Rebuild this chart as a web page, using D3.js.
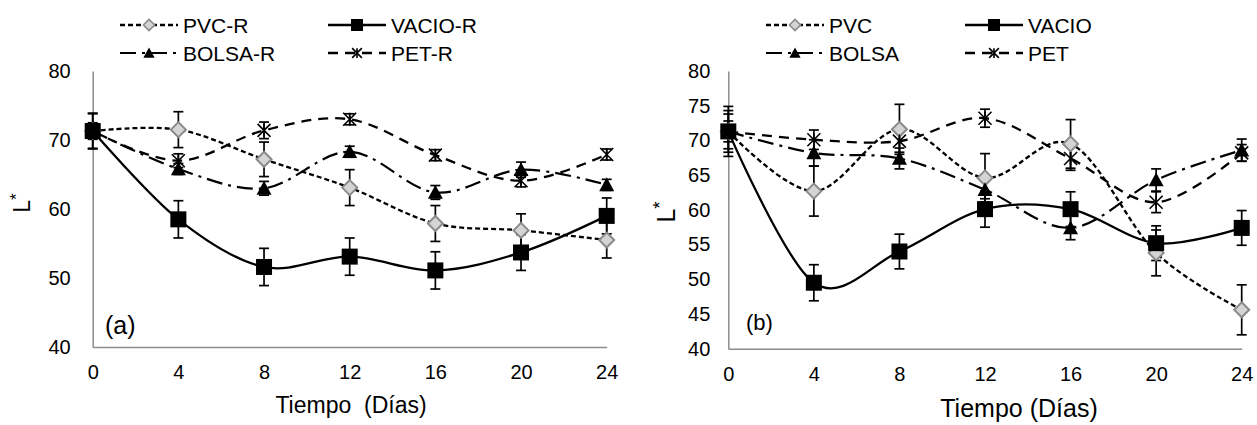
<!DOCTYPE html>
<html>
<head>
<meta charset="utf-8">
<script src="https://cdn.jsdelivr.net/npm/d3@7/dist/d3.min.js"></script>
<style>
  html, body { margin: 0; padding: 0; background: #fff; }
  svg { display: block; font-family: "Liberation Sans", Arial, sans-serif; }
</style>
</head>
<body>
<svg id="chart" width="1257" height="425"></svg>
<script>
// ---------- DATA ----------
const days = [0, 4, 8, 12, 16, 20, 24];
const xTicks = [0, 4, 8, 12, 16, 20, 24];
const yTicksA = [40, 50, 60, 70, 80];
const yTicksB = [40, 45, 50, 55, 60, 65, 70, 75, 80];

// Panel (a)
const pvcR      = [71.3, 71.5, 67.2, 63.1, 57.9, 56.9, 55.5];
const pvcRErr   = [2.5, 2.6, 2.5, 2.6, 2.6, 2.4, 2.6];
const vacioR    = [71.3, 58.5, 51.6, 53.1, 51.1, 53.7, 59.0];
const vacioRErr = [2.6, 2.7, 2.7, 2.7, 2.7, 2.6, 2.6];
const bolsaR    = [71.3, 65.8, 63.0, 68.3, 62.4, 65.7, 63.5];
const bolsaRErr = [1.0, 0.8, 1.0, 0.8, 1.0, 1.1, 0.8];
const petR      = [71.3, 67.0, 71.4, 73.0, 67.8, 64.1, 67.9];
const petRErr   = [1.2, 1.0, 1.2, 0.8, 0.8, 0.9, 0.8];

// Panel (b)
const pvc      = [71.3, 62.7, 71.6, 64.6, 69.5, 53.8, 45.6];
const pvcErr   = [3.6, 3.6, 3.6, 3.5, 3.5, 3.3, 3.6];
const vacio    = [71.3, 49.5, 54.0, 60.1, 60.1, 55.2, 57.4];
const vacioErr = [2.5, 2.6, 2.5, 2.6, 2.5, 2.5, 2.5];
const bolsa    = [71.3, 68.2, 67.4, 62.9, 57.4, 64.3, 68.6];
const bolsaErr = [1.5, 1.9, 1.5, 1.3, 1.7, 1.6, 1.6];
const pet      = [71.3, 70.1, 69.9, 73.2, 67.4, 61.1, 68.2];
const petErr   = [3.0, 1.4, 1.6, 1.3, 1.7, 1.5, 1.2];

const labelsA = ["PVC-R", "VACIO-R", "BOLSA-R", "PET-R"];
const labelsB = ["PVC", "VACIO", "BOLSA", "PET"];

// ---------- STYLES ----------
const styles = [
  { dash: "5,3",        width: 2.3, marker: "diamond" },
  { dash: null,         width: 2.3, marker: "square" },
  { dash: "16,6,3,6",   width: 2.2, marker: "triangle" },
  { dash: "10,7",       width: 2.3, marker: "star" }
];

const svg = d3.select("#chart");

function drawMarker(g, type, cx, cy, scale) {
  const s = scale || 1;
  if (type === "diamond") {
    const r = 7.5 * s;
    g.append("path")
      .attr("d", `M${cx},${cy - r}L${cx + r},${cy}L${cx},${cy + r}L${cx - r},${cy}Z`)
      .attr("fill", "#d4d4d4").attr("stroke", "#8a8a8a").attr("stroke-width", 2 * s);
  } else if (type === "square") {
    const r = 8 * s;
    g.append("rect").attr("x", cx - r).attr("y", cy - r)
      .attr("width", 2 * r).attr("height", 2 * r).attr("fill", "#000");
  } else if (type === "triangle") {
    const r = 7.5 * s;
    g.append("path")
      .attr("d", `M${cx},${cy - r}L${cx + r},${cy + r * 0.85}L${cx - r},${cy + r * 0.85}Z`)
      .attr("fill", "#000");
  } else if (type === "star") {
    const r = 6.5 * s;
    g.append("path")
      .attr("d", `M${cx - r},${cy - r}L${cx + r},${cy + r}M${cx - r},${cy + r}L${cx + r},${cy - r}M${cx},${cy - r}L${cx},${cy + r}`)
      .attr("stroke", "#000").attr("stroke-width", 1.6).attr("fill", "none");
  }
}

function drawPanel(cfg) {
  const g = svg.append("g");
  const x = d3.scaleLinear().domain([0, 24]).range([cfg.x0, cfg.x1]);
  const y = d3.scaleLinear().domain([40, 80]).range([cfg.y0, cfg.y1]);

  // axes
  const yAxis = d3.axisLeft(y).tickValues(cfg.yTicks).tickSize(0).tickPadding(cfg.yPad);
  const ya = g.append("g").attr("transform", `translate(${cfg.x0},0)`).call(yAxis);
  ya.select(".domain").attr("stroke", "#8c8c8c").attr("stroke-width", 1.5);
  ya.selectAll("text").attr("font-size", cfg.tickFont).attr("fill", "#000")
    .attr("font-family", "Liberation Sans, Arial, sans-serif");

  const xAxis = d3.axisBottom(x).tickValues(xTicks).tickSize(0).tickPadding(cfg.xPad);
  const xa = g.append("g").attr("transform", `translate(0,${cfg.y0})`).call(xAxis);
  xa.select(".domain").attr("stroke", "#8c8c8c").attr("stroke-width", 1.5);
  xa.selectAll("text").attr("font-size", cfg.tickFont).attr("fill", "#000")
    .attr("font-family", "Liberation Sans, Arial, sans-serif");

  const line = d3.line().x((d, i) => x(days[i])).y(d => y(d)).curve(d3.curveCatmullRom.alpha(0));

  // lines
  cfg.series.forEach((s, k) => {
    g.append("path").datum(s.values)
      .attr("d", line)
      .attr("fill", "none")
      .attr("stroke", "#000")
      .attr("stroke-width", styles[k].width)
      .attr("stroke-dasharray", styles[k].dash);
  });
  // error bars
  cfg.series.forEach((s, k) => {
    s.values.forEach((v, i) => {
      const cx = x(days[i]);
      const top = y(v + s.err[i]), bot = y(v - s.err[i]);
      g.append("line").attr("x1", cx).attr("x2", cx).attr("y1", top).attr("y2", bot)
        .attr("stroke", "#000").attr("stroke-width", 1.7);
      [top, bot].forEach(yy => g.append("line")
        .attr("x1", cx - 5).attr("x2", cx + 5).attr("y1", yy).attr("y2", yy)
        .attr("stroke", "#000").attr("stroke-width", 1.7));
    });
  });
  // markers
  cfg.series.forEach((s, k) => {
    s.values.forEach((v, i) => drawMarker(g, styles[k].marker, x(days[i]), y(v), 1));
  });

  // y label L*
  const yl = g.append("text")
    .attr("transform", `translate(${cfg.ylX},${cfg.ylY}) rotate(-90)`)
    .attr("text-anchor", "middle")
    .attr("font-size", cfg.ylFont).attr("fill", "#000");
  yl.append("tspan").text("L");
  yl.append("tspan").attr("dy", -cfg.ylFont * 0.35).attr("font-size", cfg.ylFont * 0.75).text("*");

  // x label
  g.append("text").attr("x", cfg.xlX).attr("y", cfg.xlY)
    .attr("text-anchor", "middle").attr("font-size", cfg.xlFont).attr("fill", "#000")
    .attr("xml:space", "preserve")
    .text(cfg.xLabel);

  // panel tag
  g.append("text").attr("x", cfg.tagX).attr("y", cfg.tagY)
    .attr("font-size", cfg.tagFont).attr("fill", "#000").text(cfg.tag);

  // legend
  cfg.series.forEach((s, k) => {
    const col = k % 2, row = Math.floor(k / 2);
    const lx = cfg.legX[col], ly = cfg.legY[row];
    const L = cfg.legLen;
    g.append("line").attr("x1", lx).attr("x2", lx + L).attr("y1", ly).attr("y2", ly)
      .attr("stroke", "#000").attr("stroke-width", styles[k].width)
      .attr("stroke-dasharray", styles[k].dash);
    drawMarker(g, styles[k].marker, lx + L / 2, ly, 0.75);
    g.append("text").attr("x", lx + L + 5).attr("y", ly + 7.5)
      .attr("font-size", cfg.legFont).attr("fill", "#000").text(s.label);
  });
}

drawPanel({
  x0: 92.7, x1: 606.7, y0: 347, y1: 71,
  yTicks: yTicksA, yPad: 22, xPad: 18, tickFont: 20,
  series: [
    { label: labelsA[0], values: pvcR,   err: pvcRErr },
    { label: labelsA[1], values: vacioR, err: vacioRErr },
    { label: labelsA[2], values: bolsaR, err: bolsaRErr },
    { label: labelsA[3], values: petR,   err: petRErr }
  ],
  ylX: 30, ylY: 203, ylFont: 23,
  xlX: 351, xlY: 413, xlFont: 23, xLabel: "Tiempo  (Días)",
  tag: "(a)", tagX: 105, tagY: 334, tagFont: 25,
  legX: [120, 328], legY: [25, 53], legLen: 58, legFont: 21
});

drawPanel({
  x0: 728.3, x1: 1241.7, y0: 348.7, y1: 71,
  yTicks: yTicksB, yPad: 18, xPad: 18, tickFont: 20,
  series: [
    { label: labelsB[0], values: pvc,   err: pvcErr },
    { label: labelsB[1], values: vacio, err: vacioErr },
    { label: labelsB[2], values: bolsa, err: bolsaErr },
    { label: labelsB[3], values: pet,   err: petErr }
  ],
  ylX: 675, ylY: 212, ylFont: 25,
  xlX: 1019, xlY: 417, xlFont: 25, xLabel: "Tiempo (Días)",
  tag: "(b)", tagX: 746, tagY: 330, tagFont: 22,
  legX: [766, 965], legY: [25, 53], legLen: 58, legFont: 21
});
</script>
</body>
</html>
